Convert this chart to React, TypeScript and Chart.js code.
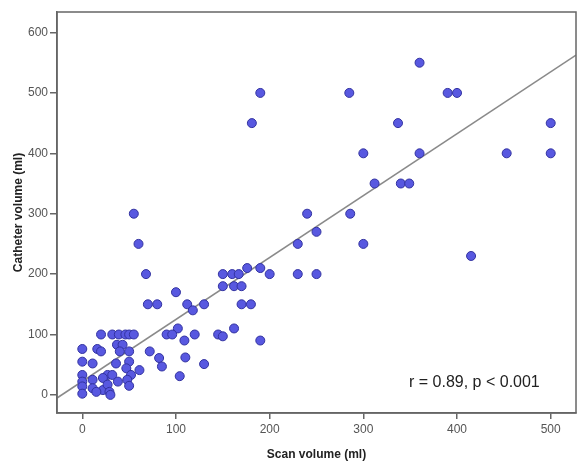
import React, { useEffect, useRef } from "react";
import { Chart, registerables } from "chart.js";

Chart.register(...registerables);

// Scan volume (ml) values
const scanVolume: number[] = [
  360, 285, 390, 400, 190, 181, 337, 500, 300, 360, 453, 500, 312, 340, 349,
  55, 240, 286, 250, 60, 230, 300, 415,
  68, 150, 160, 167, 200, 230, 250,
  176, 190,
  150, 162, 170,
  100,
  70, 80, 112, 130, 170, 180,
  118,
  102, 162,
  20, 32, 39, 46, 50, 55, 90, 96, 120, 145, 150,
  109, 190,
  37, 43,
  0, 16,
  20, 40, 50, 72,
  82, 110,
  0, 50,
  11, 36, 130, 47,
  85,
  61,
  0, 27, 32, 52, 104,
  11, 22, 48, 38,
  0, 0, 11, 22, 27, 50,
  29, 0, 15, 30,
];

// Catheter volume (ml) values
const catheterVolume: number[] = [
  550, 500, 500, 500, 500, 450, 450, 450, 400, 400, 400, 400, 350, 350, 350,
  300, 300, 300, 270, 250, 250, 250, 230,
  200, 200, 200, 200, 200, 200, 200,
  210, 210,
  180, 180, 180,
  170,
  150, 150, 150, 150, 150, 150,
  140,
  110, 110,
  100, 100, 100, 100, 100, 100, 100, 100, 100, 100, 97,
  90, 90,
  83, 83,
  76, 76,
  72, 72, 72, 72,
  61, 62,
  55, 55,
  52, 52, 51, 44,
  47,
  41,
  33, 33, 33, 33, 31,
  25, 28, 25, 22,
  22, 14, 11, 8, 17, 15,
  5, 2, 5, 0,
];

// Fit line (least squares, as drawn in the figure)
const fitIntercept = 22.5;
const fitSlope = 1.025;
const fitX: number[] = [-27, 527];

const xTicks: number[] = [0, 100, 200, 300, 400, 500];
const yTicks: number[] = [0, 100, 200, 300, 400, 500, 600];

const xTitle = "Scan volume (ml)";
const yTitle = "Catheter volume (ml)";
const annotation = "r = 0.89, p < 0.001";

export default function App() {
  const ref = useRef<HTMLCanvasElement | null>(null);

  useEffect(() => {
    if (!ref.current) return;
    const points = scanVolume.map((x, i) => ({ x, y: catheterVolume[i] }));
    const fitLine = fitX.map((x) => ({ x, y: fitIntercept + fitSlope * x }));

    const framePlugin = {
      id: "frame",
      afterDraw(chart: any) {
        const { ctx, chartArea } = chart;
        ctx.save();
        ctx.strokeStyle = "#666";
        ctx.lineWidth = 1.5;
        ctx.strokeRect(
          chartArea.left,
          chartArea.top,
          chartArea.right - chartArea.left,
          chartArea.bottom - chartArea.top
        );
        ctx.fillStyle = "#222";
        ctx.font = '16px "Liberation Sans", Arial, sans-serif';
        ctx.textAlign = "left";
        ctx.textBaseline = "alphabetic";
        ctx.fillText(annotation, 409, 387);
        ctx.restore();
      },
    };

    const chart = new Chart(ref.current, {
      type: "scatter",
      data: {
        datasets: [
          {
            type: "scatter",
            data: points,
            backgroundColor: "rgb(88,88,224)",
            borderColor: "rgb(50,50,160)",
            borderWidth: 1,
            pointRadius: 4.5,
            order: 1,
          },
          {
            type: "line",
            data: fitLine,
            borderColor: "#8a8a8a",
            borderWidth: 1.5,
            pointRadius: 0,
            fill: false,
            order: 2,
          } as any,
        ],
      },
      options: {
        animation: false,
        responsive: false,
        layout: {
          autoPadding: false,
          padding: { top: 12, right: 1, left: 0, bottom: 0 },
        },
        plugins: {
          legend: { display: false },
          tooltip: { enabled: false },
        },
        scales: {
          x: {
            type: "linear",
            min: -27,
            max: 527,
            afterBuildTicks: (scale: any) => {
              scale.ticks = xTicks.map((v) => ({ value: v }));
            },
            afterFit: (scale: any) => {
              scale.height = 49;
              scale.paddingLeft = 0;
              scale.paddingRight = 0;
            },
            grid: {
              drawOnChartArea: false,
              drawTicks: true,
              tickLength: 6,
              color: "#666",
              lineWidth: 1.5,
            },
            border: { display: true, color: "#666", width: 1.5 },
            ticks: {
              color: "#555",
              padding: 3,
              font: { family: '"Liberation Sans", Arial, sans-serif', size: 12 },
            },
            title: {
              display: true,
              text: xTitle,
              color: "#222",
              padding: { top: 2, bottom: 0 },
              font: {
                family: '"Liberation Sans", Arial, sans-serif',
                size: 12,
                weight: "bold",
              },
            },
          },
          y: {
            type: "linear",
            min: -30,
            max: 634,
            afterBuildTicks: (scale: any) => {
              scale.ticks = yTicks.map((v) => ({ value: v }));
            },
            afterFit: (scale: any) => {
              scale.width = 57;
              scale.paddingTop = 0;
              scale.paddingBottom = 0;
            },
            grid: {
              drawOnChartArea: false,
              drawTicks: true,
              tickLength: 7,
              color: "#666",
              lineWidth: 1.5,
            },
            border: { display: true, color: "#666", width: 1.5 },
            ticks: {
              color: "#555",
              padding: 2,
              font: { family: '"Liberation Sans", Arial, sans-serif', size: 12 },
            },
            title: {
              display: true,
              text: yTitle,
              color: "#222",
              padding: { top: 11, bottom: 0 },
              font: {
                family: '"Liberation Sans", Arial, sans-serif',
                size: 12,
                weight: "bold",
              },
            },
          },
        },
      },
      plugins: [framePlugin],
    });
    return () => chart.destroy();
  }, []);

  return (
    <div
      style={{
        position: "fixed",
        left: 0,
        top: 0,
        width: 577,
        height: 462,
        background: "#fff",
      }}
    >
      <canvas ref={ref} width={577} height={462} style={{ width: 577, height: 462 }} />
    </div>
  );
}
